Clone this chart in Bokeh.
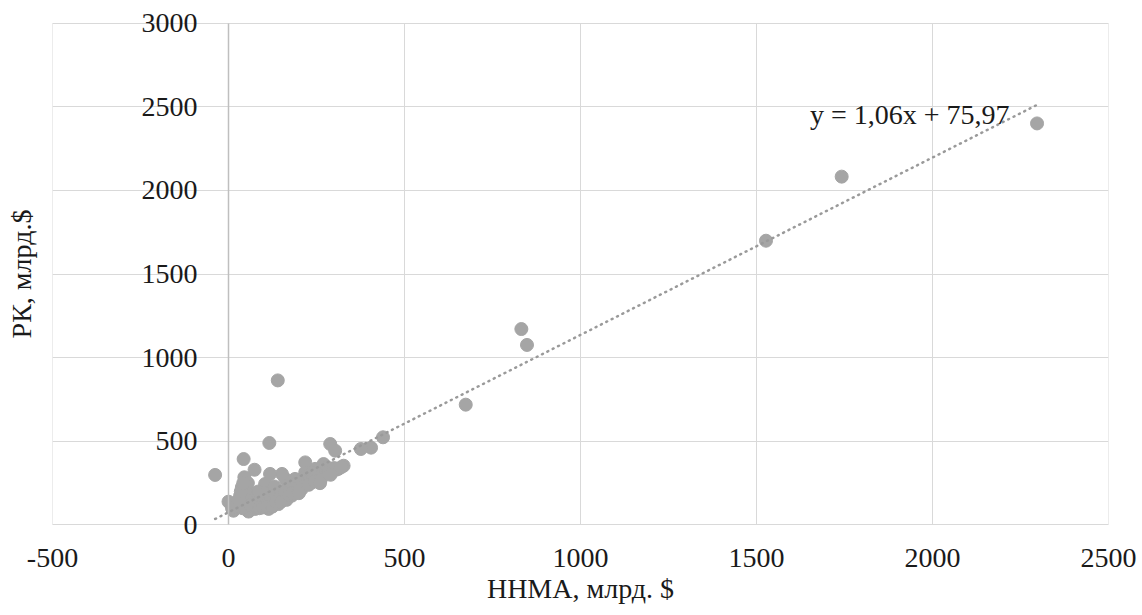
from bokeh.plotting import figure
from bokeh.models import FixedTicker, Label, Range1d, LinearAxis
from bokeh.embed import file_html
from bokeh.resources import INLINE

# ННМА (x) and РК (y), млрд. $
x_vals = [2297, 1742, 1527, 832, 848, 674, 439, 405, 376, 140, 116, 289, 303, -38, 43, 74,
          312, 327, 294, 270, 246, 218, 218, 260, 237, 208, 189, 180, 170, 161, 152, 137,
          142, 128, 118, 114, 104, 95, 90, 76, 66, 57, 52, 47, 45, 38, 33, 28, 14, 0,
          60, 70, 80, 85, 100, 105, 110, 120, 125, 130, 135, 145, 150, 160, 165, 175,
          185, 190, 195, 200, 205, 210, 215, 225, 230, 235, 240, 250, 255, 265, 275, 280,
          285, 300, 305, 320, 40, 50, 55, 62, 88, 98, 108, 20, 10, 30, 35, 42, 125, 135,
          150, 165, 172, 182, 198, 228, 245, 262, 200, 260, 290]
y_vals = [2400, 2082, 1699, 1171, 1076, 719, 524, 462, 454, 864, 490, 484, 444, 299, 394, 330,
          335, 354, 335, 364, 335, 374, 314, 285, 255, 215, 275, 175, 235, 275, 305, 205,
          125, 155, 305, 96, 245, 125, 165, 96, 145, 80, 215, 115, 285, 225, 175, 125, 85, 139,
          180, 110, 140, 200, 150, 190, 130, 170, 200, 230, 180, 160, 200, 190, 210, 200,
          240, 210, 250, 230, 270, 250, 280, 265, 290, 310, 280, 305, 320, 300, 330, 345,
          320, 340, 330, 345, 100, 150, 250, 120, 100, 105, 110, 110, 100, 150, 200, 250, 110, 140,
          140, 150, 180, 190, 200, 240, 260, 270, 190, 250, 300]

trend_slope = 1.06
trend_intercept = 75.97
equation_text = "y = 1,06x + 75,97"
x_title = "ННМА, млрд. $"
y_title = "РК, млрд.$"
x_ticks = [-500, 0, 500, 1000, 1500, 2000, 2500]
y_ticks = [0, 500, 1000, 1500, 2000, 2500, 3000]

FONT = "'Liberation Serif', serif"
GREY = "#A5A5A5"
TXT = "#1a1a1a"
GRID = "#D9D9D9"

p = figure(frame_width=1056, frame_height=527, output_backend="svg", toolbar_location=None,
           x_range=Range1d(x_ticks[0], x_ticks[-1]),
           y_range=Range1d(y_ticks[0] - 75, y_ticks[-1] + 75),
           min_border_left=52, min_border_right=30, min_border_top=10, min_border_bottom=4)
p.outline_line_color = None
p.background_fill_color = "white"
p.border_fill_color = "white"

# horizontal grid (the 0 line doubles as the x axis line)
p.ygrid.ticker = FixedTicker(ticks=y_ticks)
p.ygrid.grid_line_color = GRID
p.ygrid.grid_line_width = 1
# vertical grid lines limited to the 0..3000 span
p.xgrid.visible = False
p.segment(x0=x_ticks, y0=[y_ticks[0]] * len(x_ticks), x1=x_ticks, y1=[y_ticks[-1]] * len(x_ticks),
          line_color=GRID, line_width=1)

# x axis
xa = p.xaxis[0]
xa.ticker = FixedTicker(ticks=x_ticks)
xa.major_label_overrides = {t: str(t) for t in x_ticks}
xa.axis_line_color = None
xa.major_tick_line_color = None
xa.minor_tick_line_color = None
xa.major_label_standoff = 5
xa.major_label_text_font = FONT
xa.major_label_text_font_size = "28px"
xa.major_label_text_color = TXT
xa.axis_label = x_title
xa.axis_label_text_font = FONT
xa.axis_label_text_font_size = "28px"
xa.axis_label_text_font_style = "normal"
xa.axis_label_text_color = TXT
xa.axis_label_standoff = 3

# y axis fixed at x = 0
ya = p.yaxis[0]
ya.fixed_location = 0
ya.bounds = (y_ticks[0], y_ticks[-1])
ya.ticker = FixedTicker(ticks=y_ticks)
ya.axis_line_color = "#BFBFBF"
ya.axis_line_width = 1.5
ya.major_tick_line_color = None
ya.minor_tick_line_color = None
ya.major_label_standoff = 25
ya.major_label_text_font = FONT
ya.major_label_text_font_size = "28px"
ya.major_label_text_color = TXT

# y title on its own (label-less) axis at the far left
yt = LinearAxis(ticker=FixedTicker(ticks=[]), axis_line_color=None,
                major_tick_line_color=None, minor_tick_line_color=None,
                major_label_text_font_size="0px", major_label_standoff=0,
                axis_label=y_title, axis_label_text_font=FONT,
                axis_label_text_font_size="28px", axis_label_text_font_style="normal",
                axis_label_text_color=TXT, axis_label_standoff=16)
p.add_layout(yt, "left")

# data
p.scatter(x_vals, y_vals, size=13, fill_color=GREY, line_color=GREY)

tx = [min(x_vals), max(x_vals)]
ty = [trend_slope * v + trend_intercept for v in tx]
p.line(tx, ty, line_color="#9A9A9A", line_width=2.5, line_dash="1 5", line_cap="round")

p.add_layout(Label(x=1652, y=2452, text=equation_text, text_font=FONT, text_font_size="28px",
                   text_color=TXT, text_baseline="alphabetic", text_align="left"))

open("out.html", "w").write(file_html(p, INLINE))
